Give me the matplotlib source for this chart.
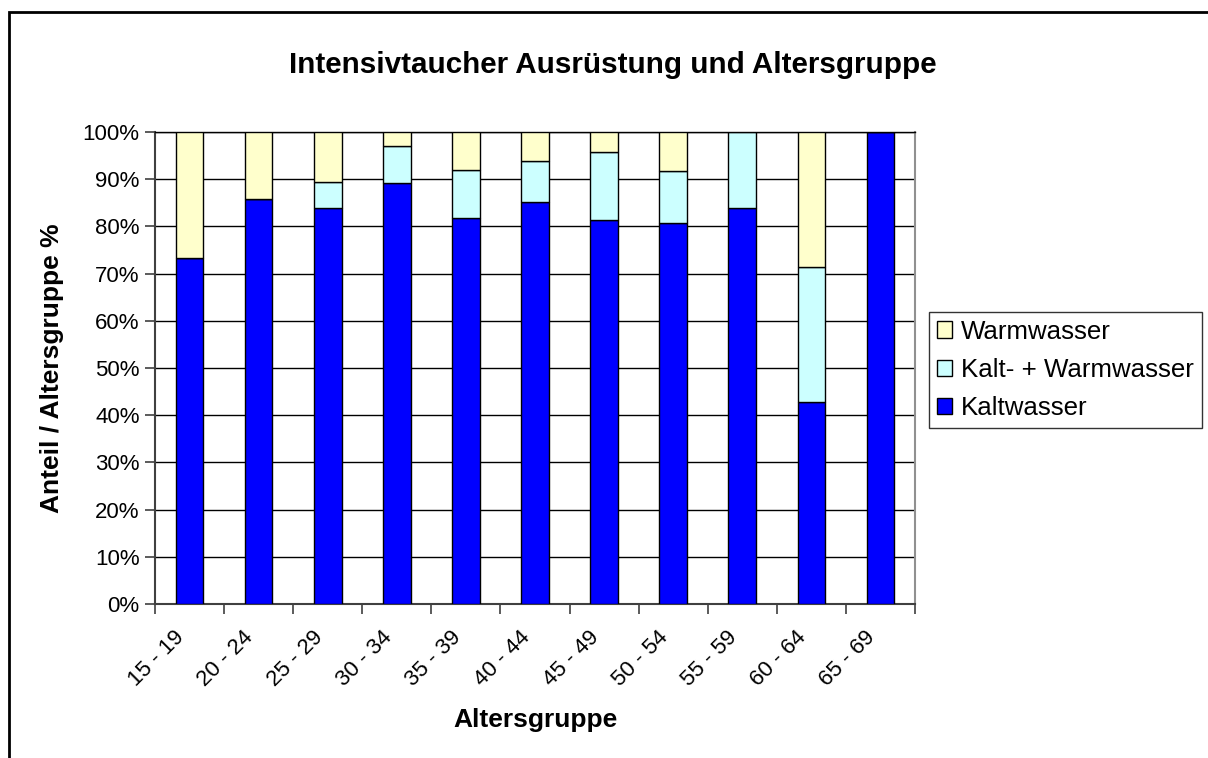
import matplotlib
matplotlib.use("Agg")
import matplotlib.pyplot as plt
from matplotlib.patches import Rectangle, Patch
import numpy as np

plt.rcParams['font.family'] = ['Liberation Sans', 'DejaVu Sans']

categories = ["15 - 19", "20 - 24", "25 - 29", "30 - 34", "35 - 39", "40 - 44",
              "45 - 49", "50 - 54", "55 - 59", "60 - 64", "65 - 69"]
kaltwasser = [73.3, 85.7, 83.8, 89.2, 81.8, 85.1, 81.3, 80.8, 83.8, 42.9, 100.0]
kalt_warm = [0.0, 0.0, 5.6, 7.9, 10.1, 8.8, 14.4, 10.9, 16.2, 28.6, 0.0]
warmwasser = [26.7, 14.3, 10.6, 2.9, 8.1, 6.1, 4.3, 8.3, 0.0, 28.5, 0.0]

series_names = ["Kaltwasser", "Kalt- + Warmwasser", "Warmwasser"]
colors = ["#0000FF", "#CCFFFF", "#FFFFCC"]

W, H = 1208, 758
fig = plt.figure(figsize=(W / 100, H / 100), dpi=100)

# outer chart frame (left/top visible)
fig.patches.append(Rectangle((9 / W, -0.05), 1.2, (758 - 12) / H + 0.05,
                             transform=fig.transFigure, fill=False,
                             edgecolor="black", linewidth=2))

ax = fig.add_axes([155 / W, 154 / H, 760 / W, 472 / H])

x = np.arange(len(categories)) + 0.5
bw = 0.4
bottom = np.zeros(len(categories))
data = [kaltwasser, kalt_warm, warmwasser]
for vals, name, c in zip(data, series_names, colors):
    vals = np.array(vals)
    ax.bar(x, vals, bw, bottom=bottom, color=c, edgecolor="black",
           linewidth=1.0, zorder=3, label=name)
    bottom += vals

ax.set_xlim(0, len(categories))
ax.set_ylim(0, 100)
ax.set_yticks(np.arange(0, 101, 10))
ax.set_yticklabels([f"{v}%" for v in range(0, 101, 10)], fontsize=16)
ax.yaxis.grid(True, color="black", linewidth=1.0, zorder=0)
ax.set_axisbelow(True)

ax.set_xticks(np.arange(0, len(categories) + 1), minor=False)
ax.set_xticklabels([])
# category labels (invisible minor ticks placed slightly left of bar centers)
ax.set_xticks(x - 0.12, minor=True)
ax.set_xticklabels(categories, minor=True, rotation=45, ha="right", va="center",
                   rotation_mode="anchor", fontsize=16)
ax.tick_params(axis="x", which="minor", length=0, pad=22)
ax.tick_params(axis="x", which="major", length=7, width=1.2, color="#404040", direction="out")
ax.tick_params(axis="y", length=7, width=1.2, color="#404040", direction="out", pad=4)

for s in ["left", "bottom"]:
    ax.spines[s].set_color("#404040")
    ax.spines[s].set_linewidth(1.5)
ax.spines["right"].set_color("#909090")
ax.spines["right"].set_linewidth(1.5)
ax.spines["top"].set_color("black")
ax.spines["top"].set_linewidth(1.0)

ax.set_ylabel("Anteil / Altersgruppe %", fontsize=19, fontweight="bold")
ax.yaxis.set_label_coords((52 - 155) / 760, 0.5)
ax.set_xlabel("Altersgruppe", fontsize=19, fontweight="bold")
ax.xaxis.set_label_coords(0.5, -(720 - 604) / 472)
ax.xaxis.label.set_va("center")
ax.yaxis.label.set_va("center")

fig.text(613 / W, 1 - 65 / H, "Intensivtaucher Ausrüstung und Altersgruppe",
         fontsize=21.3, fontweight="bold", ha="center", va="center")

leg_handles = [Patch(facecolor=colors[i], edgecolor="black", label=series_names[i])
               for i in [2, 1, 0]]
leg = fig.legend(handles=leg_handles, loc="upper left",
                 bbox_to_anchor=(929 / W, 1 - 312 / H), fontsize=18.6,
                 frameon=True, fancybox=False, edgecolor="black",
                 handlelength=0.6, handleheight=0.6, handletextpad=0.35,
                 borderpad=0.3, labelspacing=0.55, borderaxespad=0)
leg.get_frame().set_linewidth(1.0)

fig.savefig("out.png", dpi=100)
